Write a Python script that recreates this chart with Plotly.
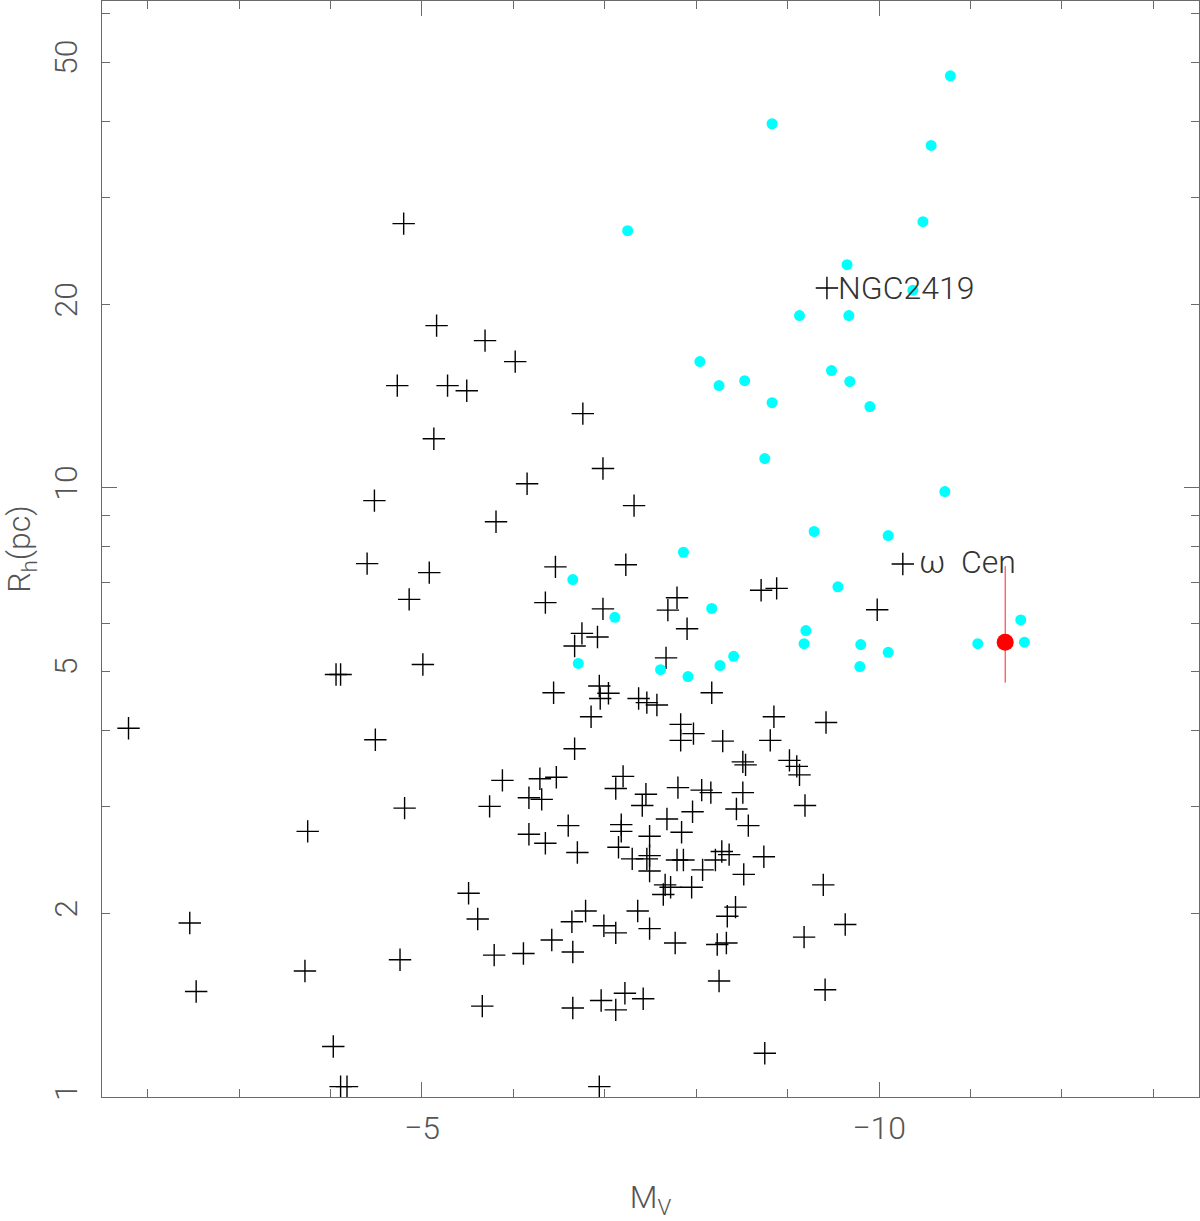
import numpy as np
import plotly.graph_objects as go

# Galactic globular clusters (black plus)
gc_mv = [-1.79, -2.46, -2.53, -3.72, -3.75, -4.03, -4.11, -4.18, -4.06, -4.11,
         -4.49, -4.40, -4.48, -4.73, -4.80, -4.76, -4.81, -4.86, -5.01, -5.08,
         -5.13, -5.16, -5.28, -5.49, -5.69, -5.81, -6.02, -6.15, -5.51, -5.61,
         -5.74, -5.66, -5.79, -5.88, -6.11, -6.17, -6.17, -6.29, -6.31, -6.35,
         -6.35, -6.42, -6.44, -6.46, -6.47, -6.60, -6.64, -6.65, -6.65, -6.67,
         -6.70, -6.67, -6.75, -6.76, -6.79, -6.85, -6.92, -6.94, -6.95, -7.04,
         -6.94, -6.96, -6.98, -6.98, -6.99, -7.12, -7.12, -7.12, -7.15, -7.18,
         -7.18, -7.20, -7.22, -7.23, -7.30, -7.32, -7.36, -7.37, -7.41, -7.42,
         -7.45, -7.46, -7.46, -7.49, -7.49, -7.49, -7.49, -7.57, -7.64, -7.66,
         -7.72, -7.67, -7.68, -7.69, -7.77, -7.79, -7.86, -7.79, -7.80, -7.83,
         -7.83, -7.84, -7.90, -7.95, -7.96, -7.97, -8.06, -8.07, -8.16, -8.17,
         -8.21, -8.23, -8.25, -8.28, -8.29, -8.33, -8.34, -8.36, -8.43, -8.44,
         -8.51, -8.54, -8.51, -8.52, -8.57, -8.71, -8.74, -8.75, -8.81, -8.85,
         -8.88, -9.02, -9.10, -9.13, -9.18, -9.19, -9.39, -9.41, -9.42, -9.43,
         -9.63, -9.98, -10.26]
gc_rh = [4.03, 1.93, 1.49, 1.61, 2.73, 1.21, 1.04, 1.04, 4.94, 4.94,
         3.86, 7.51, 9.53, 14.72, 27.15, 1.68, 2.98, 6.56, 5.13, 7.26,
         12.04, 18.47, 14.72, 14.44, 17.45, 8.80, 16.12, 10.16, 2.16, 1.96,
         3.00, 1.41, 1.71, 3.31, 1.72, 3.10, 2.70, 3.33, 3.08, 2.61,
         6.48, 1.81, 4.61, 7.42, 3.35, 2.79, 1.94, 1.73, 1.40, 3.73,
         2.52, 5.50, 5.77, 13.24, 2.02, 4.21, 5.69, 4.73, 4.51, 4.60,
         1.04, 1.44, 10.76, 6.33, 1.91, 1.86, 1.39, 3.21, 2.57, 2.80,
         2.73, 3.36, 1.48, 7.48, 2.46, 9.35, 2.02, 4.51, 3.01, 1.45,
         3.14, 4.44, 2.46, 2.68, 2.49, 2.35, 1.89, 4.40, 2.15, 2.23,
         2.21, 5.26, 2.86, 6.30, 1.79, 2.45, 2.45, 6.60, 3.22, 4.09,
         3.85, 2.72, 5.87, 2.21, 2.94, 3.95, 3.19, 2.36, 3.16, 4.61,
         2.45, 1.78, 1.55, 2.53, 3.84, 1.79, 1.98, 2.50, 2.05, 2.97,
         3.55, 3.51, 3.16, 2.32, 2.79, 6.79, 2.48, 1.18, 3.85, 4.21,
         6.84, 3.57, 3.49, 3.38, 1.83, 3.01, 2.23, 1.50, 4.12, 21.29,
         1.92, 6.31, 7.50]

# Comparison objects (cyan)
cy_mv = [-7.25, -8.83, -10.78, -10.57, -10.48, -9.65, -10.37, -9.13, -9.67, -8.04,
         -8.25, -8.53, -9.48, -9.68, -9.90, -8.83, -8.75, -10.72, -9.29, -10.10,
         -7.86, -6.65, -7.11, -8.17, -9.55, -9.20, -9.18, -9.80, -9.79, -10.10,
         -6.71, -7.61, -7.91, -8.26, -8.41, -11.08, -11.55, -11.59]
cy_rh = [26.44, 39.61, 47.48, 36.49, 27.35, 23.25, 21.10, 19.18, 19.18, 16.12,
         14.72, 15.00, 15.58, 14.95, 13.60, 13.80, 11.17, 9.86, 8.48, 8.35,
         7.84, 7.07, 6.13, 6.34, 6.88, 5.83, 5.55, 5.53, 5.09, 5.37,
         5.15, 5.03, 4.90, 5.11, 5.29, 5.55, 6.07, 5.58]

# Highlighted object (red) with Rh range
red_mv = [-11.38]
red_rh = [5.58]
red_rh_hi = [7.44]
red_rh_lo = [4.79]

# Labelled clusters
labels = ["NGC2419", "\u03c9\u00a0\u00a0Cen"]
label_mv = [-9.43, -10.26]
label_rh = [21.29, 7.50]

x_minor = list(range(-2, -14, -1))
x_major = [-5, -10]
x_major_text = ["\u22125", "\u221210"]
y_minor = [3, 4, 6, 7, 8, 9, 30, 40, 60]
y_labelled = [1, 2, 5, 10, 20, 50]
y_major = [1, 10]

FONT = "Roboto"
AX = "#6a6a6a"
TXT = "#555555"

fig = go.Figure()
fig.add_trace(go.Scatter(
    x=gc_mv, y=gc_rh, mode="markers", showlegend=False,
    marker=dict(symbol="cross-thin", size=16, line=dict(width=1.4, color="black"))))
fig.add_trace(go.Scatter(
    x=cy_mv, y=cy_rh, mode="markers", showlegend=False,
    marker=dict(symbol="circle", size=11, color="#00ffff", line=dict(width=0))))
fig.add_trace(go.Scatter(
    x=red_mv, y=red_rh, mode="markers", showlegend=False,
    error_y=dict(type="data", symmetric=False,
                 array=[h - v for h, v in zip(red_rh_hi, red_rh)],
                 arrayminus=[v - l for v, l in zip(red_rh, red_rh_lo)],
                 width=0, thickness=1, color="#ff2020"),
    marker=dict(symbol="circle", size=17, color="#ff0000", line=dict(width=0))))
# carrier for the overlay y axis (long decade ticks)
fig.add_trace(go.Scatter(x=[], y=[], xaxis="x", yaxis="y2", showlegend=False,
                         hoverinfo="skip"))

xr = [-1.5, -13.5]
yr = [0, np.log10(63)]

fig.update_layout(
    width=1200, height=1221,
    margin=dict(l=102, r=1, t=1, b=124),
    paper_bgcolor="white", plot_bgcolor="white",
    font=dict(family=FONT, color=TXT),
    xaxis=dict(
        range=xr, showgrid=False, zeroline=False, automargin=False,
        showline=True, linecolor=AX, linewidth=1.3, mirror="ticks",
        ticks="inside", ticklen=15, tickwidth=1.2, tickcolor=AX,
        tickmode="array", tickvals=x_major, ticktext=x_major_text,
        minor=dict(tickvals=x_minor, ticks="inside", ticklen=8, tickwidth=1.2,
                   tickcolor=AX, showgrid=False),
        tickfont=dict(size=32, color=TXT, family=FONT, weight=300),
        ticklabelstandoff=2,
        title=dict(text="M<sub>V</sub>", font=dict(size=32, color=TXT, family=FONT, weight=300),
                   standoff=40),
    ),
    yaxis=dict(
        type="log", range=yr, showgrid=False, zeroline=False, automargin=False,
        showline=True, linecolor=AX, linewidth=1.3, mirror="ticks",
        ticks="inside", ticklen=8, tickwidth=1.2, tickcolor=AX,
        tickmode="array", tickvals=y_labelled,
        ticktext=[str(v) for v in y_labelled],
        minor=dict(tickvals=y_minor, ticks="inside", ticklen=8, tickwidth=1.2,
                   tickcolor=AX, showgrid=False),
        tickangle=-90,
        tickfont=dict(size=32, color=TXT, family=FONT, weight=300),
        ticklabelstandoff=11,
        title=dict(text="R<sub>h</sub>(pc)", font=dict(size=32, color=TXT, family=FONT, weight=300),
                   standoff=7),
    ),
    yaxis2=dict(
        overlaying="y", type="log", range=yr, showgrid=False, zeroline=False,
        automargin=False, showline=False, mirror="ticks", ticks="inside", ticklen=15,
        tickwidth=1.2, tickcolor=AX, tickmode="array", tickvals=y_major,
        showticklabels=False, anchor="x", side="left",
    ),
)

shifts = [(9, 0), (14, 2)]
for txt, mv, rh, (dx, dy) in zip(labels, label_mv, label_rh, shifts):
    fig.add_annotation(
        x=mv, y=np.log10(rh), text=txt, showarrow=False,
        xanchor="left", yanchor="middle", xshift=dx, yshift=dy,
        font=dict(size=32, color="#333333", family=FONT, weight=300),
    )

fig.write_html(
    "out.html",
    config={"displayModeBar": False},
    post_script="document.body.style.margin='0px';"
                "document.body.style.overflow='hidden';"
                "document.documentElement.style.overflow='hidden';",
)
